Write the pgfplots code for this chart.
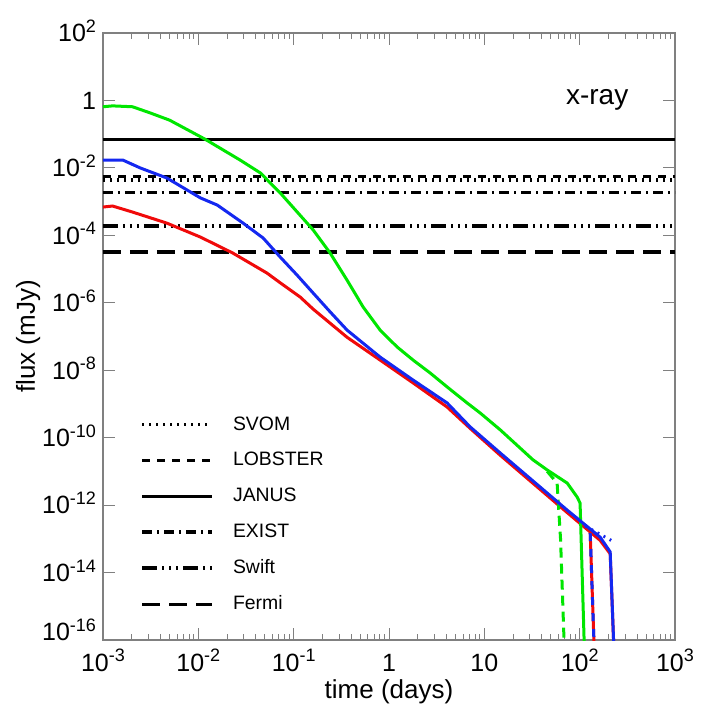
\documentclass[border=0pt]{standalone}
\usepackage{fontspec}
\setmainfont{Liberation Sans}
\usepackage{pgfplots}
\pgfplotsset{compat=1.18}

\definecolor{cgreen}{RGB}{0,230,0}
\definecolor{cblue}{RGB}{20,40,240}
\definecolor{cred}{RGB}{240,10,10}
% tick label: 10 with a large superscript
\newcommand{\tl}[1]{10\raisebox{4.6pt}{\fontsize{9}{10}\selectfont #1}}

\begin{document}
\begin{tikzpicture}
\begin{axis}[
    name=ax,
    scale only axis,
    width=286pt, height=303.5pt,
    xmode=log, ymode=log,
    xmin=1e-3, xmax=1e3, ymin=1e-16, ymax=1e2,
    xtick={1e-3,1e-2,1e-1,1,10,100,1000},
    xticklabels={\tl{-3},\tl{-2},\tl{-1},1,10,\tl{2},\tl{3}},
    ytick={1e2,1,1e-2,1e-4,1e-6,1e-8,1e-10,1e-12,1e-14,1e-16},
    yticklabels={\tl{2},1,\tl{-2},\tl{-4},\tl{-6},\tl{-8},\tl{-10},\tl{-12},\tl{-14},\raisebox{4.3pt}{\tl{-16}}},
    yminorticks=false,
    tick label style={font=\fontsize{12.5}{14}\selectfont},
    yticklabel style={anchor=base east, yshift=-4.4pt},
    xticklabel style={anchor=base, yshift=-15.5pt},
    label style={font=\fontsize{13}{15}\selectfont},
    xlabel={time (days)},
    ylabel={flux (mJy)},
    xlabel style={at={(rel axis cs:0.5,-0.085)}, anchor=center},
    ylabel style={at={(rel axis cs:-0.131,0.5)}, anchor=center},
    axis line style={draw=gray, line width=0.6pt},
    major tick length=6pt, minor tick length=3pt,
    every tick/.style={gray, line width=0.5pt},
    legend cell align=left,
    legend style={draw=none, fill=none, font=\fontsize{9.7}{11}\selectfont,
        at={(rel axis cs:0.055,0.382)}, anchor=north west, row sep=5.6pt,
        /tikz/every odd column/.style={column sep=7.5pt}},
    legend image code/.code={\draw[#1] (0pt,0pt) -- (35pt,0pt);},
]
% sensitivity limits
\addplot[black, line width=1.6pt, dash pattern=on 1pt off 2.5pt] coordinates {(1e-3,4.4e-3) (1e3,4.4e-3)};
\addlegendentry{SVOM}
\addplot[black, line width=1.6pt, dash pattern=on 4pt off 3.5pt] coordinates {(1e-3,5.7e-3) (1e3,5.7e-3)};
\addlegendentry{LOBSTER}
\addplot[black, line width=1.6pt] coordinates {(1e-3,7.0e-2) (1e3,7.0e-2)};
\addlegendentry{JANUS}
\addplot[black, line width=1.6pt, dash pattern=on 5pt off 2.5pt on 1pt off 2.5pt] coordinates {(1e-3,1.9e-3) (1e3,1.9e-3)};
\addlegendentry{EXIST}
\addplot[black, line width=1.6pt, dash pattern=on 7.5pt off 2.5pt on 1pt off 2.5pt on 1pt off 2.5pt on 1pt off 2.5pt] coordinates {(1e-3,1.9e-4) (1e3,1.9e-4)};
\addlegendentry{Swift}
\addplot[black, line width=1.6pt, dash pattern=on 9pt off 4.5pt] coordinates {(1e-3,3.2e-5) (1e3,3.2e-5)};
\addlegendentry{Fermi}

% light curves
\addplot[cred, line width=1.5pt, forget plot] coordinates {
(0.001,6.9e-4) (0.00126,7.4e-4) (0.00204,4.9e-4) (0.00468,2.3e-4) (0.0105,8.9e-5)
(0.0229,3.0e-5) (0.0525,7.6e-6) (0.0724,3.9e-6) (0.117,1.48e-6) (0.16,6.5e-7)
(0.363,9.5e-8) (0.807,2.0e-8) (1.79,4.2e-9) (4.07,8.1e-10) (7.08,1.9e-10)
(14.7,3.0e-11) (74,6.0e-13) (164,9.0e-14) (209,3.6e-14) (234,1e-17)};
\addplot[cgreen, line width=1.5pt, forget plot] coordinates {
(0.001,0.65) (0.00126,0.69) (0.00204,0.65) (0.0031,0.43) (0.005,0.26)
(0.0117,0.0716) (0.0275,0.017) (0.0447,0.0071) (0.0724,0.0018) (0.16,1.45e-4)
(0.241,3.0e-5) (0.363,4.7e-6) (0.537,7.4e-7) (0.807,1.55e-7) (1.216,4.9e-8)
(1.79,2.0e-8) (2.70,8.3e-9) (4.07,3.2e-9) (6.6,1.07e-9) (9.04,5.4e-10)
(14.7,1.7e-10) (32.4,2.2e-11) (45.7,1.1e-11) (74,4.5e-12) (94,1.74e-12)
(101,1.15e-12) (114,1e-17)};
\addplot[cgreen, line width=1.5pt, dash pattern=on 5pt off 3pt, forget plot] coordinates {
(45.7,1.0e-11) (58,4.5e-12) (63,1e-13) (70.5,1e-17)};
\addplot[cblue, line width=1.5pt, forget plot] coordinates {
(0.001,0.017) (0.00162,0.017) (0.00245,0.01) (0.00468,5.0e-3) (0.0105,1.29e-3)
(0.0158,7.9e-4) (0.0295,2.3e-4) (0.0479,8.3e-5) (0.0719,2.3e-5) (0.1087,6.6e-6)
(0.16,1.95e-6) (0.241,5.4e-7) (0.363,1.55e-7) (0.807,2.45e-8) (1.79,5.1e-9)
(4.07,1.07e-9) (7.08,2.1e-10) (14.7,3.5e-11) (74,7.1e-13) (164,1.12e-13)
(209,4.1e-14) (234,1e-17)};
\addplot[cblue, line width=1.5pt, dash pattern=on 1pt off 2.5pt, forget plot] coordinates {
(114,2.4e-13) (214,9e-14)};
\addplot[cred, line width=1.5pt, forget plot] coordinates {
(129,1.48e-13) (145,1e-17)};
\addplot[cblue, line width=1.5pt, dash pattern=on 4pt off 4pt, forget plot] coordinates {
(129,1.48e-13) (145,1e-17)};

\node[font=\fontsize{14}{16}\selectfont] at (rel axis cs:0.864,0.89) {x-ray};
\end{axis}
\pgfresetboundingbox
\path[use as bounding box] ([xshift=-51.5pt,yshift=-33pt]ax.south west) rectangle ([xshift=15.5pt,yshift=16.5pt]ax.north east);
\end{tikzpicture}
\end{document}
